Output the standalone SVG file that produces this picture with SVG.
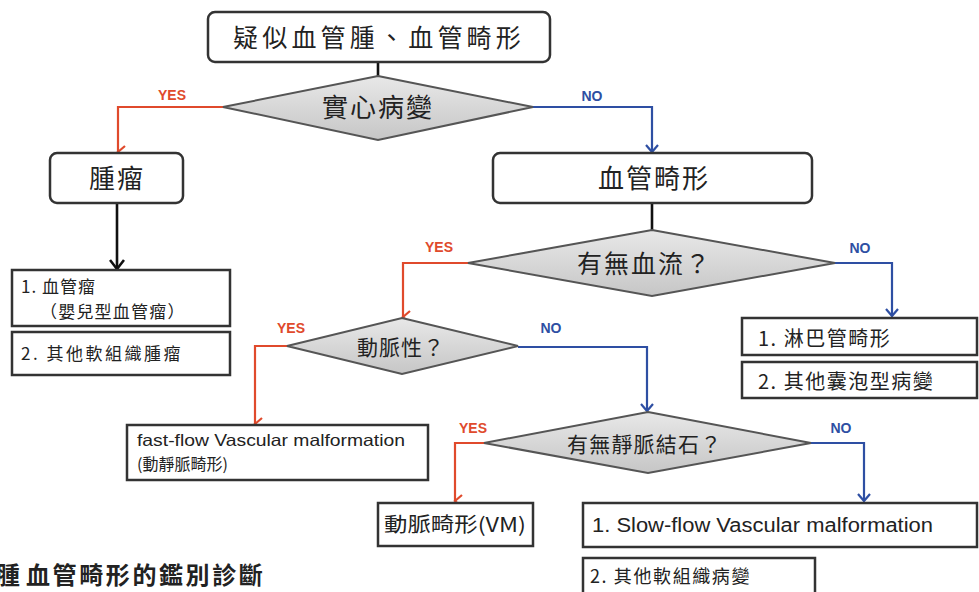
<svg xmlns="http://www.w3.org/2000/svg" width="979" height="592" viewBox="0 0 979 592">
<defs>
<linearGradient id="dg" x1="0" y1="0" x2="0" y2="1">
<stop offset="0" stop-color="#e8e8e8"/>
<stop offset="1" stop-color="#c6c6c6"/>
</linearGradient>
<marker id="ar" markerUnits="userSpaceOnUse" markerWidth="14" markerHeight="12" refX="7" refY="10" orient="auto-start-reverse" viewBox="0 0 14 12">
<path d="M1,3 L7,10 L13,3" fill="none" stroke="#e04a2c" stroke-width="2.2"/>
</marker>
<marker id="ab" markerUnits="userSpaceOnUse" markerWidth="14" markerHeight="12" refX="7" refY="10" viewBox="0 0 14 12">
<path d="M1,3 L7,10 L13,3" fill="none" stroke="#2e4fa3" stroke-width="2.2"/>
</marker>
<marker id="ak" markerUnits="userSpaceOnUse" markerWidth="16" markerHeight="14" refX="8" refY="12" viewBox="0 0 16 14">
<path d="M1,3 L8,12 L15,3" fill="none" stroke="#111" stroke-width="2.6"/>
</marker>
</defs>
<style>
.box{fill:#fff;stroke:#333;stroke-width:2.5}
.dia{fill:url(#dg);stroke:#555;stroke-width:2}
.t{font-family:"Noto Sans CJK TC","Noto Sans CJK SC",sans-serif;fill:#222}
.e{font-family:"Liberation Sans","Noto Sans CJK TC",sans-serif;fill:#222}
.red{fill:none;stroke:#e04a2c;stroke-width:2.2}
.blue{fill:none;stroke:#2e4fa3;stroke-width:2.2}
.blk{fill:none;stroke:#111;stroke-width:2.6}
.yes{font-family:"Liberation Sans",sans-serif;font-weight:bold;font-size:14px;fill:#e04a2c;text-anchor:middle}
.no{font-family:"Liberation Sans",sans-serif;font-weight:bold;font-size:14px;fill:#2e4fa3;text-anchor:middle}
</style>

<g id="connectors">
<path class="blk" d="M378,62 V76"/>
<path class="red" d="M223,107 H118 V152" marker-end="url(#ar)"/>
<path class="blue" d="M533,107 H652 V152" marker-end="url(#ab)"/>
<path class="blk" d="M117,203 V269" marker-end="url(#ak)"/>
<path class="blk" d="M652,203 V230"/>
<path class="red" d="M468,263 H403 V317" marker-end="url(#ar)"/>
<path class="blue" d="M835,263 H892 V316" marker-end="url(#ab)"/>
<path class="red" d="M287,346 H255 V424" marker-end="url(#ar)"/>
<path class="blue" d="M518,347 H647 V411" marker-end="url(#ab)"/>
<path class="red" d="M484,443 H455 V501" marker-end="url(#ar)"/>
<path class="blue" d="M811,443 H864 V501" marker-end="url(#ab)"/>
<text class="yes" x="172" y="100">YES</text>
<text class="no" x="592" y="101">NO</text>
<text class="yes" x="439" y="252">YES</text>
<text class="no" x="860" y="253">NO</text>
<text class="yes" x="291" y="333">YES</text>
<text class="no" x="551" y="333">NO</text>
<text class="yes" x="473" y="433">YES</text>
<text class="no" x="841" y="433">NO</text>
</g>

<g id="start">
<rect class="box" x="208" y="12" width="342" height="50" rx="7"/>
<text class="t" x="233" y="47" font-size="25" letter-spacing="4.2">疑似血管腫、血管畸形</text>
</g>

<g id="d1">
<polygon class="dia" points="378,76 533,107 378,140 223,107"/>
<text class="t" x="322" y="117" font-size="26" letter-spacing="2">實心病變</text>
</g>

<g id="tumor">
<rect class="box" x="50" y="153" width="133" height="50" rx="7"/>
<text class="t" x="89" y="188" font-size="26" letter-spacing="2">腫瘤</text>
</g>

<g id="vm">
<rect class="box" x="493" y="153" width="319" height="50" rx="7"/>
<text class="t" x="598" y="188" font-size="26" letter-spacing="2">血管畸形</text>
</g>

<g id="d2">
<polygon class="dia" points="652,230 835,263 652,296 468,263"/>
<text class="t" x="577" y="273" font-size="25" letter-spacing="2">有無血流？</text>
</g>

<g id="tumor-list">
<rect class="box" x="12" y="270" width="218" height="56"/>
<text class="t" x="21" y="293" font-size="17" letter-spacing="1">1. 血管瘤</text>
<text class="t" x="40" y="318" font-size="17" letter-spacing="1.2">（嬰兒型血管瘤）</text>
<rect class="box" x="12" y="332" width="218" height="43"/>
<text class="t" x="21" y="360" font-size="17" letter-spacing="2.5">2. 其他軟組織腫瘤</text>
</g>

<g id="lymph">
<rect class="box" x="742" y="318" width="235" height="37"/>
<text class="t" x="758" y="346" font-size="20" letter-spacing="1.5">1. 淋巴管畸形</text>
<rect class="box" x="742" y="362" width="235" height="36"/>
<text class="t" x="758" y="389" font-size="20" letter-spacing="1.5">2. 其他囊泡型病變</text>
</g>

<g id="d3">
<polygon class="dia" points="402,318 518,346 402,374 287,346"/>
<text class="t" x="357" y="355" font-size="21" letter-spacing="1">動脈性？</text>
</g>

<g id="fastflow">
<rect class="box" x="127" y="425" width="301" height="55"/>
<text class="e" x="137" y="446" font-size="16.5" textLength="268" lengthAdjust="spacingAndGlyphs">fast-flow Vascular malformation</text>
<text class="t" x="137" y="470" font-size="16">(動靜脈畸形)</text>
</g>

<g id="d4">
<polygon class="dia" points="648,412 811,443 648,473 484,443"/>
<text class="t" x="567" y="452" font-size="21" letter-spacing="1.2">有無靜脈結石？</text>
</g>

<g id="venous">
<rect class="box" x="378" y="503" width="155" height="43"/>
<text class="t" x="384" y="532" font-size="20" textLength="142" lengthAdjust="spacingAndGlyphs">動脈畸形(VM)</text>
</g>

<g id="slowflow">
<rect class="box" x="583" y="503" width="394" height="44"/>
<text class="e" x="592" y="532" font-size="20" textLength="341" lengthAdjust="spacingAndGlyphs">1. Slow-flow Vascular malformation</text>
<rect class="box" x="583" y="558" width="232" height="50"/>
<text class="t" x="590" y="583" font-size="18" letter-spacing="1.6">2. 其他軟組織病變</text>
</g>

<g id="caption">
<text class="t" y="584" font-size="24" font-weight="bold" letter-spacing="2.6"><tspan x="-4">腫</tspan><tspan x="26">血管畸形的鑑別診斷</tspan></text>
</g>
</svg>
